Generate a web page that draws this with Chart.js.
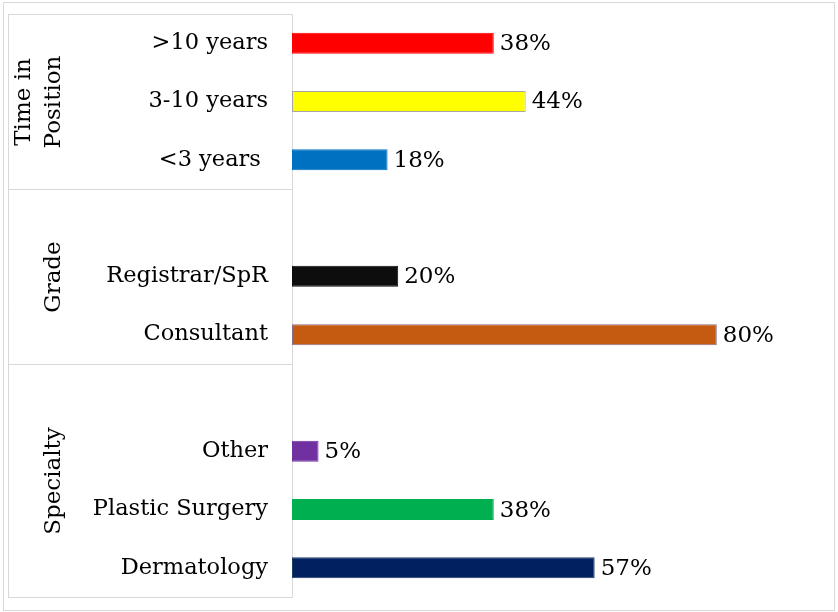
<!DOCTYPE html>
<html>
<head>
<meta charset="utf-8">
<script src="https://cdn.jsdelivr.net/npm/chart.js@4.4.1/dist/chart.umd.min.js"></script>
<style>
  html, body { margin: 0; padding: 0; background: #fff; }
  #wrap { width: 838px; height: 612px; position: relative; }
</style>
</head>
<body>
<div id="wrap"><canvas id="chart"></canvas></div>
<script>
// Data (empty slots keep the gaps between groups)
const categories = [">10 years", "3-10 years", "<3 years ", "", "Registrar/SpR", "Consultant", "", "Other", "Plastic Surgery", "Dermatology"];
const values = [38, 44, 18, null, 20, 80, null, 5, 38, 57];
const barColors = ["#ff0000", "#ffff00", "#0070c0", null, "#0d0d0d", "#c55a11", null, "#7030a0", "#00b050", "#002060"];
const barBorders = ["#ff0000", "#a6a6a6", "#0070c0", null, "#0d0d0d", "#8a6f8a", null, "#7030a0", "#00b050", "#1f3864"];

// Groups: name lines, first and last category index
const groupNames = [["Time in", "Position"], ["Grade"], ["Specialty"]];
const groupStart = [0, 3, 6];
const groupEnd = [2, 5, 9];

const FONT = "'DejaVu Serif', Georgia, serif";
const LINE = "#d9d9d9";

const framePlugin = {
  id: "frame",
  afterDraw(chart) {
    const { ctx, chartArea, scales } = chart;
    const y = scales.y;
    const left = 8;
    const right = chartArea.left;
    const half = (y.getPixelForValue(1) - y.getPixelForValue(0)) / 2;

    ctx.save();
    ctx.strokeStyle = LINE;
    ctx.lineWidth = 1;

    // outer border
    ctx.strokeRect(3.5, 2.5, 831, 608);

    // group box
    ctx.beginPath();
    ctx.moveTo(left + 0.5, chartArea.top);
    ctx.lineTo(left + 0.5, chartArea.bottom);
    ctx.stroke();

    groupStart.forEach((s, i) => {
      const top = Math.round(y.getPixelForValue(s) - half) + 0.5;
      const bottom = Math.round(y.getPixelForValue(groupEnd[i]) + half) + 0.5;
      ctx.beginPath();
      ctx.moveTo(left, top);
      ctx.lineTo(right, top);
      ctx.moveTo(left, bottom);
      ctx.lineTo(right, bottom);
      ctx.stroke();

      // rotated group label
      const lines = groupNames[i];
      const cy = (top + bottom) / 2;
      ctx.save();
      ctx.fillStyle = "#000";
      ctx.font = "23px " + FONT;
      ctx.textAlign = "center";
      ctx.textBaseline = "middle";
      lines.forEach((txt, j) => {
        const cx = 54 - (lines.length - 1 - j) * 30;
        ctx.save();
        ctx.translate(cx, cy);
        ctx.rotate(-Math.PI / 2);
        ctx.fillText(txt, 0, 0);
        ctx.restore();
      });
      ctx.restore();
    });

    // value labels
    const meta = chart.getDatasetMeta(0);
    ctx.fillStyle = "#000";
    ctx.font = "23px " + FONT;
    ctx.textAlign = "left";
    ctx.textBaseline = "middle";
    meta.data.forEach((bar, i) => {
      if (values[i] == null) return;
      ctx.fillText(values[i] + "%", bar.x + 6, bar.y + 1);
    });
    ctx.restore();
  },
};

new Chart(document.getElementById("chart"), {
  type: "bar",
  data: {
    labels: categories,
    datasets: [
      {
        data: values,
        backgroundColor: barColors,
        borderColor: barBorders,
        borderWidth: 1,
        borderSkipped: false,
        barPercentage: 0.36,
        categoryPercentage: 1,
      },
    ],
  },
  options: {
    indexAxis: "y",
    responsive: true,
    maintainAspectRatio: false,
    animation: false,
    layout: { padding: { left: 0, top: 14, right: 15, bottom: 15 } },
    plugins: {
      legend: { display: false },
      tooltip: { enabled: false },
    },
    scales: {
      x: {
        display: false,
        min: 0,
        max: 100,
      },
      y: {
        afterFit(scale) {
          scale.width = 292;
          scale.paddingTop = 0;
          scale.paddingBottom = 0;
        },
        grid: { display: false, drawTicks: false },
        border: { display: true, color: LINE, width: 1 },
        ticks: {
          color: "#000",
          padding: 24,
          font: { family: FONT, size: 22.5 },
        },
      },
    },
  },
  plugins: [framePlugin],
});
</script>
</body>
</html>
